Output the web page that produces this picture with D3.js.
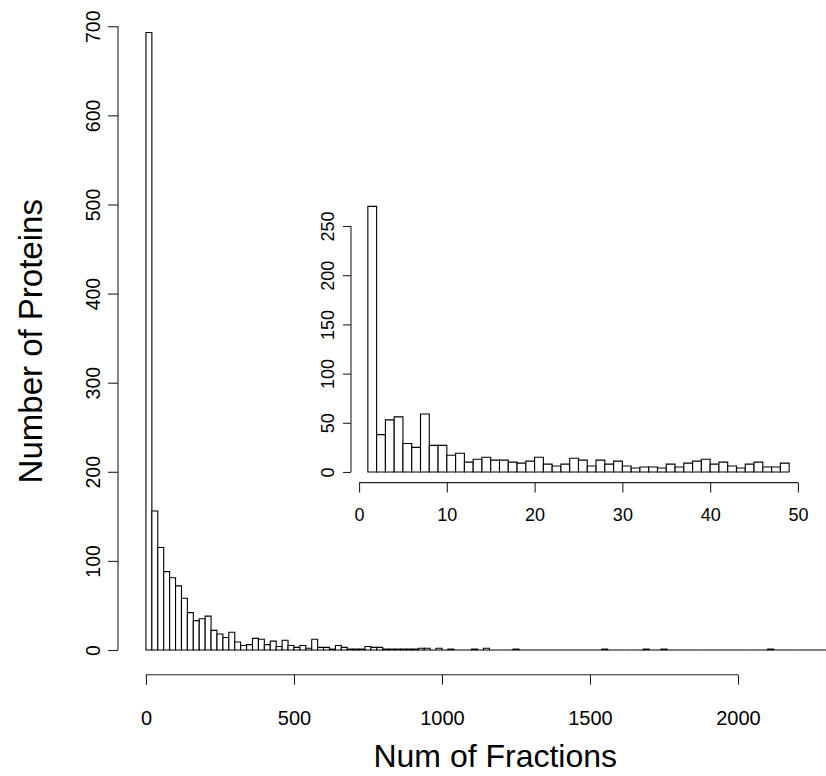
<!DOCTYPE html>
<html>
<head>
<meta charset="utf-8">
<script src="https://cdn.jsdelivr.net/npm/d3@7"></script>
<style>
  html, body { margin: 0; padding: 0; background: #fff; }
  svg { display: block; font-family: "Liberation Sans", Arial, Helvetica, sans-serif; }
</style>
</head>
<body>
<svg id="chart" width="826" height="776"></svg>
<script>
// Histogram of the number of fractions each protein was seen in (bins of 20)
const mainBinWidth = 20;
const mainCounts = [
  693, 156, 115, 88, 81, 72, 58, 42, 33, 35,
  38, 22, 18, 14, 20, 9, 5, 6, 13, 12,
  6, 10, 4, 11, 5, 3, 5, 2, 12, 3,
  3, 1, 5, 3, 1, 1, 1, 4, 3, 3,
  1, 1, 1, 1, 1, 1, 2, 2, 0, 2,
  0, 1, 0, 0, 0, 1, 0, 2, 0, 0,
  0, 0, 1, 0, 0, 0, 0, 0, 0, 0,
  0, 0, 0, 0, 0, 0, 0, 1, 0, 0,
  0, 0, 0, 0, 1, 0, 0, 1, 0, 0,
  0, 0, 0, 0, 0, 0, 0, 0, 0, 0,
  0, 0, 0, 0, 0, 1, 0, 0, 0, 0,
  0, 0, 0, 0, 0, 0, 0, 1
];
const mainXTicks = [0, 500, 1000, 1500, 2000];
const mainYTicks = [0, 100, 200, 300, 400, 500, 600, 700];
const mainXTitle = "Num of Fractions";
const mainYTitle = "Number of Proteins";

// Inset: proteins seen in 1 to 49 fractions (bins of 1)
const insetStart = 1;
const insetCounts = [
  270, 38, 53, 56, 29, 25, 59, 27, 27, 17,
  19, 10, 13, 15, 12, 12, 10, 9, 11, 15,
  8, 6, 8, 14, 12, 6, 12, 8, 11, 6,
  4, 5, 5, 4, 8, 5, 9, 11, 13, 8,
  10, 6, 4, 8, 10, 5, 5, 9
];
const insetXTicks = [0, 10, 20, 30, 40, 50];
const insetYTicks = [0, 50, 100, 150, 200, 250];

const svg = d3.select("#chart");

// R-style axis range: data range padded by 4% on each side
function padded(lo, hi) {
  const p = 0.04 * (hi - lo);
  return [lo - p, hi + p];
}

// Each bin is an outlined box; empty bins still leave their stroke on the baseline
function drawHistogram(opts) {
  const { bins, x, y, g } = opts;
  g.selectAll("path")
    .data(bins)
    .join("path")
    .attr("d", d => {
      const p = d3.path();
      p.moveTo(x(d.x0), y(0));
      p.lineTo(x(d.x0), y(d.count));
      p.lineTo(x(d.x1), y(d.count));
      p.lineTo(x(d.x1), y(0));
      p.closePath();
      return p.toString();
    })
    .attr("fill", "#fff")
    .attr("stroke", "#000")
    .attr("stroke-width", opts.strokeWidth);
}

// Axis with the line spanning only from first to last tick, as in base R
function drawAxis(g, axis, ticks, scale, orient, labelOffset, fontSize) {
  g.call(axis);
  g.select(".domain").remove();
  g.selectAll(".tick line").attr("stroke", "#222").attr("stroke-width", 1.1);
  const a = scale(ticks[0]), b = scale(ticks[ticks.length - 1]);
  if (orient === "bottom") {
    g.append("line").attr("x1", a).attr("x2", b).attr("y1", 0).attr("y2", 0)
      .attr("stroke", "#222").attr("stroke-width", 1.1);
    g.selectAll(".tick text")
      .attr("y", labelOffset).attr("dy", "0.35em")
      .attr("fill", "#000").attr("font-size", fontSize);
  } else {
    g.append("line").attr("y1", a).attr("y2", b).attr("x1", 0).attr("x2", 0)
      .attr("stroke", "#222").attr("stroke-width", 1.1);
    g.selectAll(".tick text")
      .attr("transform", "rotate(-90)")
      .attr("x", 0).attr("y", -labelOffset).attr("dy", "0.35em")
      .attr("text-anchor", "middle")
      .attr("fill", "#000").attr("font-size", fontSize);
  }
  g.attr("font-family", null).attr("font-size", null);
}

// ---- main histogram ----
const mainBins = mainCounts.map((c, i) => ({ x0: i * mainBinWidth, x1: (i + 1) * mainBinWidth, count: c }));
const mainX = d3.scaleLinear()
  .domain(padded(0, mainCounts.length * mainBinWidth))
  .range([118, 872.5]);
const mainY = d3.scaleLinear()
  .domain(padded(0, d3.max(mainCounts)))
  .range([674.7, 7.8]);

drawHistogram({ bins: mainBins, x: mainX, y: mainY, g: svg.append("g"), strokeWidth: 1.1 });

const mxg = svg.append("g").attr("transform", `translate(0,${mainY.range()[0]})`);
drawAxis(mxg, d3.axisBottom(mainX).tickValues(mainXTicks).tickSize(10).tickFormat(d3.format("d")),
  mainXTicks, mainX, "bottom", 43, 20);
const myg = svg.append("g").attr("transform", `translate(${mainX.range()[0]},0)`);
drawAxis(myg, d3.axisLeft(mainY).tickValues(mainYTicks).tickSize(10).tickFormat(d3.format("d")),
  mainYTicks, mainY, "left", 25, 19.5);

svg.append("text")
  .attr("x", d3.mean(mainX.range())).attr("y", 767)
  .attr("text-anchor", "middle").attr("font-size", 32).text(mainXTitle);
svg.append("text")
  .attr("transform", `translate(30,${d3.mean(mainY.range())}) rotate(-90)`)
  .attr("dy", "0.35em")
  .attr("text-anchor", "middle").attr("font-size", 33).text(mainYTitle);

// ---- inset histogram ----
const insetBins = insetCounts.map((c, i) => ({ x0: insetStart + i, x1: insetStart + i + 1, count: c }));
const insetX = d3.scaleLinear()
  .domain(padded(insetStart, insetStart + insetCounts.length))
  .range([351, 806]);
const insetY = d3.scaleLinear()
  .domain(padded(0, d3.max(insetCounts)))
  .range([482.6, 195.7]);

drawHistogram({ bins: insetBins, x: insetX, y: insetY, g: svg.append("g"), strokeWidth: 1.1 });

const ixg = svg.append("g").attr("transform", `translate(0,${insetY.range()[0]})`);
drawAxis(ixg, d3.axisBottom(insetX).tickValues(insetXTicks).tickSize(10).tickFormat(d3.format("d")),
  insetXTicks, insetX, "bottom", 32, 18);
const iyg = svg.append("g").attr("transform", `translate(${insetX.range()[0]},0)`);
drawAxis(iyg, d3.axisLeft(insetY).tickValues(insetYTicks).tickSize(8).tickFormat(d3.format("d")),
  insetYTicks, insetY, "left", 23, 18);
</script>
</body>
</html>
